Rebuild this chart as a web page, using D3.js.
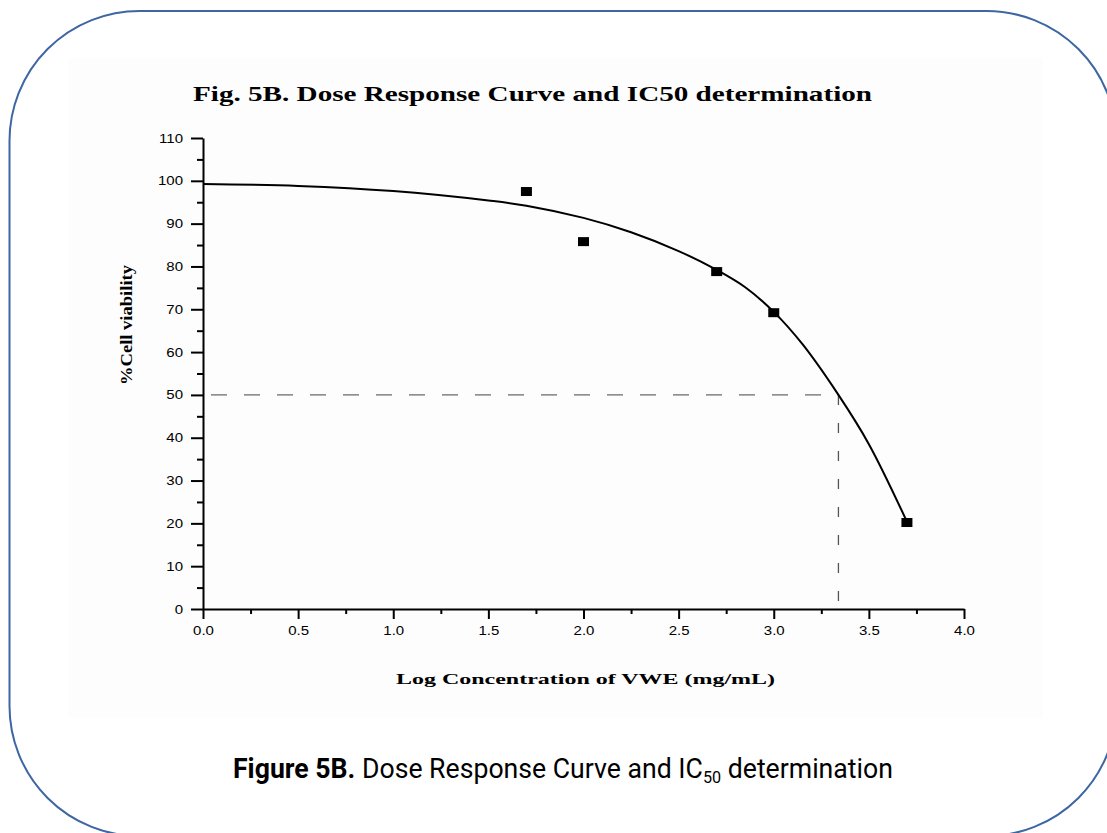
<!DOCTYPE html>
<html>
<head>
<meta charset="utf-8">
<script src="https://cdn.jsdelivr.net/npm/d3@7/dist/d3.min.js"></script>
<style>
  body { margin: 0; background: #fff; }
  svg { display: block; }
</style>
</head>
<body>
<svg id="chart" width="1107" height="833"></svg>
<script>
// ---- data ----
const xMajorTicks = [0.0, 0.5, 1.0, 1.5, 2.0, 2.5, 3.0, 3.5, 4.0];
const xMinorTicks = [0.25, 0.75, 1.25, 1.75, 2.25, 2.75, 3.25, 3.75];
const yMajorTicks = [0, 10, 20, 30, 40, 50, 60, 70, 80, 90, 100, 110];
const yMinorTicks = [5, 15, 25, 35, 45, 55, 65, 75, 85, 95, 105];

const logConc   = [1.7, 2.0, 2.7, 3.0, 3.7];
const viability = [97.5, 85.8, 78.8, 69.2, 20.2];

const fitX = [0, 0.5, 1.0, 1.5, 1.7, 2.0, 2.25, 2.5, 2.7, 2.85, 3.0, 3.15, 3.34, 3.5, 3.7];
const fitY = [99.25, 98.8, 97.6, 95.4, 94.2, 91.35, 88.0, 83.6, 79.2, 75.15, 69.4, 61.9, 50.0, 38.5, 20.4];

const ic50X = 3.34;
const ic50Y = 50;

const titleText = "Fig. 5B. Dose Response Curve and IC50 determination";
const xLabelText = "Log Concentration of VWE (mg/mL)";
const yLabelText = "%Cell viability";

// ---- drawing ----
const svg = d3.select("#chart");

// faint image background
svg.append("rect")
  .attr("x", 68).attr("y", 58).attr("width", 975).attr("height", 660)
  .attr("fill", "#fdfdfd");

// rounded border
svg.append("rect")
  .attr("x", 9.5).attr("y", 11)
  .attr("width", 1107).attr("height", 825)
  .attr("rx", 130).attr("ry", 130)
  .attr("fill", "none")
  .attr("stroke", "#3d66a2")
  .attr("stroke-width", 2);

const x = d3.scaleLinear().domain([0, 4]).range([203, 964]);
const y = d3.scaleLinear().domain([0, 110]).range([609, 138]);

const serif = "'Liberation Serif', 'Times New Roman', serif";
const sans = "'Liberation Sans', Arial, sans-serif";

function fitH(sel, targetWidth) {
  sel.attr("textLength", targetWidth).attr("lengthAdjust", "spacingAndGlyphs");
}

// title
const title = svg.append("text")
  .attr("x", 193).attr("y", 101)
  .attr("font-family", serif).attr("font-weight", "bold")
  .attr("font-size", 21)
  .attr("fill", "#000")
  .text(titleText);
fitH(title, 679);

// dashed IC50 guide lines
svg.append("line")
  .attr("x1", x(0)).attr("x2", x(ic50X))
  .attr("y1", y(ic50Y)).attr("y2", y(ic50Y))
  .attr("stroke", "#444").attr("stroke-width", 1)
  .attr("stroke-dasharray", "16,17")
  .attr("stroke-dashoffset", -8);
svg.append("line")
  .attr("x1", x(ic50X)).attr("x2", x(ic50X))
  .attr("y1", y(ic50Y)).attr("y2", y(0))
  .attr("stroke", "#555").attr("stroke-width", 1.3)
  .attr("stroke-dasharray", "10,18");

// axes
function styleAxis(g) {
  g.selectAll("path.domain").attr("stroke", "#000").attr("stroke-width", 2);
  g.selectAll(".tick line").attr("stroke", "#000").attr("stroke-width", 2);
  g.selectAll(".tick text")
    .attr("font-family", sans).attr("font-size", 12.5).attr("fill", "#000")
    .each(function () {
      const w = this.getComputedTextLength();
      d3.select(this).attr("textLength", w * 1.2).attr("lengthAdjust", "spacingAndGlyphs");
    });
}

const xMinor = svg.append("g").attr("transform", `translate(0,${y(0)})`)
  .call(d3.axisBottom(x).tickValues(xMinorTicks).tickSize(5).tickSizeOuter(0).tickFormat(""));
xMinor.select("path.domain").remove();
xMinor.selectAll(".tick line").attr("stroke", "#000").attr("stroke-width", 2);

const xAxis = svg.append("g").attr("transform", `translate(0,${y(0)})`)
  .call(d3.axisBottom(x).tickValues(xMajorTicks).tickSize(10).tickSizeOuter(0)
    .tickPadding(7).tickFormat(d3.format(".1f")));
styleAxis(xAxis);

const yMinor = svg.append("g").attr("transform", `translate(${x(0)},0)`)
  .call(d3.axisLeft(y).tickValues(yMinorTicks).tickSize(6).tickSizeOuter(0).tickFormat(""));
yMinor.select("path.domain").remove();
yMinor.selectAll(".tick line").attr("stroke", "#000").attr("stroke-width", 2);

const yAxis = svg.append("g").attr("transform", `translate(${x(0)},0)`)
  .call(d3.axisLeft(y).tickValues(yMajorTicks).tickSize(12).tickSizeOuter(0)
    .tickPadding(8).tickFormat(d3.format("d")));
styleAxis(yAxis);

// fitted curve
const fitData = fitX.map((v, i) => [v, fitY[i]]);
svg.append("path")
  .datum(fitData)
  .attr("fill", "none")
  .attr("stroke", "#000")
  .attr("stroke-width", 2)
  .attr("d", d3.line().x(d => x(d[0])).y(d => y(d[1])).curve(d3.curveCatmullRom.alpha(0.5)));

// data markers
const pts = logConc.map((v, i) => [v, viability[i]]);
svg.append("g").selectAll("rect")
  .data(pts).enter().append("rect")
  .attr("x", d => x(d[0]) - 5.5)
  .attr("y", d => y(d[1]) - 4.5)
  .attr("width", 11).attr("height", 9)
  .attr("fill", "#000");

// axis titles
const xl = svg.append("text")
  .attr("x", 396).attr("y", 684)
  .attr("font-family", serif).attr("font-weight", "bold")
  .attr("font-size", 14).attr("fill", "#000")
  .text(xLabelText);
fitH(xl, 379);

const yl = svg.append("text")
  .attr("transform", "translate(132,385) rotate(-90)")
  .attr("x", 0).attr("y", 0)
  .attr("font-family", serif).attr("font-weight", "bold")
  .attr("font-size", 17).attr("fill", "#000")
  .text(yLabelText);
fitH(yl, 120);

// caption
const capG = svg.append("g");
const cap = capG.append("text")
  .attr("x", 0).attr("y", 0)
  .attr("font-family", "Roboto, 'Liberation Sans', sans-serif")
  .attr("font-size", 28).attr("fill", "#000");
cap.append("tspan").attr("font-weight", "bold").text("Figure 5B.");
cap.append("tspan").text(" Dose Response Curve and IC");
cap.append("tspan").attr("font-size", 17).attr("dy", 5).text("50");
cap.append("tspan").attr("dy", -5).text(" determination");
const capW = cap.node().getBBox().width;
capG.attr("transform", `translate(233,778) scale(${660 / capW},1)`);
</script>
</body>
</html>
